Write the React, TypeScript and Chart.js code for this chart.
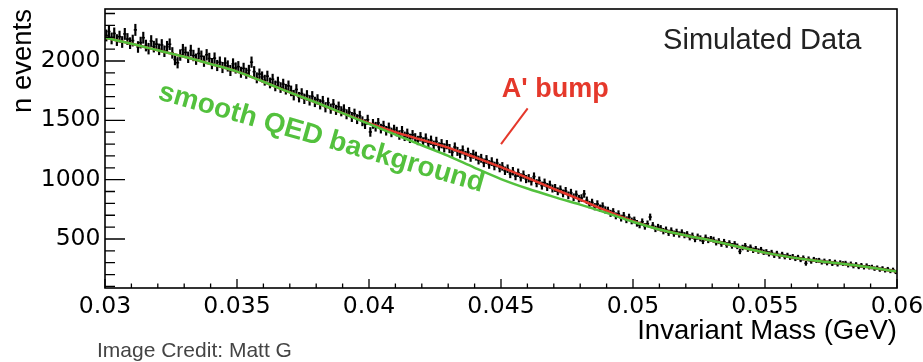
import React, { useEffect, useRef } from 'react';
import { Chart, registerables } from 'chart.js';

Chart.register(...registerables);

const FONT = '"Liberation Sans", Arial, Helvetica, sans-serif';
const TICK_FONT = '"DejaVu Sans", sans-serif';
const GREEN = '#53c13d';
const RED = '#e5382b';

// smooth curves (GeV, events)
const massKnots = [
  0.030, 0.031, 0.032, 0.033, 0.034, 0.035, 0.036, 0.037, 0.038, 0.039,
  0.040, 0.041, 0.042, 0.043, 0.044, 0.045, 0.046, 0.047, 0.048, 0.049,
  0.050, 0.051, 0.052, 0.053, 0.054, 0.055, 0.056, 0.057, 0.058, 0.059, 0.060,
];
const backgroundCurve = [
  2195, 2145, 2090, 2035, 1975, 1910, 1825, 1735, 1650, 1560,
  1470, 1380, 1290, 1200, 1100, 1005, 925, 855, 790, 720,
  645, 580, 530, 485, 435, 385, 345, 315, 290, 260, 226,
];
const signalCurve = [
  2195, 2145, 2090, 2035, 1975, 1910, 1825, 1735, 1650, 1560,
  1475, 1400, 1335, 1270, 1190, 1105, 1015, 923, 832, 738,
  650, 580, 530, 485, 435, 385, 345, 315, 290, 260, 226,
];

// histogram: 300 bins of 0.0001 GeV starting at 0.03
const BIN_START = 0.03;
const BIN_WIDTH = 0.0001;
const counts = [
  2215, 2248, 2190, 2232, 2176, 2205, 2160, 2228, 2185, 2150,
  2172, 2262, 2118, 2155, 2196, 2130, 2104, 2168, 2121, 2142,
  2098, 2135, 2082, 2120, 2141, 2068, 2012, 1985, 2050, 2095,
  2072, 2031, 2088, 2046, 2015, 2063, 2040, 1998, 2052, 2021,
  1978, 2024, 1962, 1990, 1945, 1983, 1958, 1920, 1975, 1941,
  1952, 1905, 1938, 1896, 1921, 1990, 1910, 1858, 1890, 1866,
  1838, 1872, 1815, 1846, 1790, 1822, 1776, 1805, 1762, 1790,
  1748, 1712, 1760, 1695, 1726, 1681, 1710, 1668, 1702, 1655,
  1676, 1635, 1662, 1610, 1648, 1598, 1636, 1588, 1615, 1576,
  1592, 1551, 1570, 1528, 1556, 1510, 1538, 1492, 1468, 1505,
  1402, 1470, 1446, 1478, 1430, 1455, 1412, 1440, 1398, 1422,
  1405, 1376, 1412, 1365, 1390, 1348, 1378, 1352, 1330, 1361,
  1318, 1350, 1305, 1332, 1290, 1322, 1276, 1303, 1268, 1295,
  1262, 1230, 1275, 1238, 1218, 1250, 1205, 1232, 1188, 1214,
  1198, 1165, 1180, 1142, 1170, 1128, 1152, 1115, 1140, 1098,
  1112, 1075, 1092, 1048, 1071, 1030, 1058, 1019, 1042, 1005,
  1012, 985, 1026, 970, 992, 950, 975, 938, 958, 925,
  930, 902, 918, 884, 905, 868, 890, 852, 876, 840,
  845, 880, 826, 790, 808, 772, 795, 760, 778, 745,
  742, 716, 730, 695, 712, 676, 698, 662, 684, 652,
  660, 632, 618, 645, 606, 628, 685, 615, 585, 600,
  590, 566, 578, 552, 571, 545, 560, 538, 555, 532,
  540, 514, 528, 498, 520, 505, 482, 512, 490, 500,
  494, 470, 482, 458, 476, 450, 465, 442, 458, 438,
  395, 428, 442, 415, 430, 405, 418, 398, 410, 388,
  392, 375, 386, 362, 378, 355, 370, 350, 362, 345,
  352, 335, 345, 326, 340, 295, 332, 312, 328, 318,
  320, 305, 314, 298, 310, 292, 305, 288, 300, 293,
  296, 280, 290, 272, 285, 265, 278, 262, 275, 262,
  264, 250, 258, 242, 252, 236, 246, 230, 240, 222,
];

const xTickValues = [0.03, 0.035, 0.04, 0.045, 0.05, 0.055, 0.06];
const xTickLabels = ['0.03', '0.035', '0.04', '0.045', '0.05', '0.055', '0.06'];
const yTickValues = [500, 1000, 1500, 2000];
const yTickLabels = ['500', '1000', '1500', '2000'];

const X_MIN = 0.03;
const X_MAX = 0.06;
const Y_MIN = 87;
const Y_MAX = 2438;

const rootStylePlugin = {
  id: 'rootStyle',
  afterDatasetsDraw(chart: any) {
    const { ctx, chartArea: a, scales } = chart;
    const x = scales.x;
    const y = scales.y;
    ctx.save();
    ctx.strokeStyle = '#000';
    ctx.lineWidth = 1.6;
    ctx.strokeRect(a.left, a.top, a.right - a.left, a.bottom - a.top);
    ctx.lineWidth = 1.3;
    ctx.beginPath();
    for (let k = 30; k <= 60; k++) {
      const px = x.getPixelForValue(k / 1000);
      const len = k % 5 === 0 ? 9 : 4.5;
      ctx.moveTo(px, a.bottom);
      ctx.lineTo(px, a.bottom - len);
    }
    for (let k = 1; k <= 24; k++) {
      const py = y.getPixelForValue(k * 100);
      const len = k % 5 === 0 ? 20 : 10;
      ctx.moveTo(a.left, py);
      ctx.lineTo(a.left + len, py);
    }
    ctx.stroke();
    ctx.restore();
  },
  afterDraw(chart: any) {
    const { ctx, scales } = chart;
    const x = scales.x;
    const y = scales.y;
    ctx.save();
    ctx.textBaseline = 'alphabetic';
    ctx.textAlign = 'left';

    ctx.fillStyle = '#222';
    ctx.font = `29px ${FONT}`;
    ctx.fillText('Simulated Data', x.getPixelForValue(0.05114), y.getPixelForValue(2097));

    ctx.fillStyle = RED;
    ctx.font = `bold 27px ${FONT}`;
    ctx.fillText("A' bump", x.getPixelForValue(0.04503), y.getPixelForValue(1699));

    ctx.strokeStyle = RED;
    ctx.lineWidth = 2;
    ctx.beginPath();
    ctx.moveTo(x.getPixelForValue(0.04601), y.getPixelForValue(1601));
    ctx.lineTo(x.getPixelForValue(0.0450), y.getPixelForValue(1300));
    ctx.stroke();

    ctx.fillStyle = GREEN;
    ctx.font = `bold 28px ${FONT}`;
    ctx.translate(x.getPixelForValue(0.03197), y.getPixelForValue(1680));
    ctx.rotate((16 * Math.PI) / 180);
    ctx.fillText('smooth QED background', 0, 0);
    ctx.restore();
  },
};

export default function App() {
  const canvasRef = useRef<HTMLCanvasElement | null>(null);

  useEffect(() => {
    document.body.style.margin = '0';
    const canvas = canvasRef.current;
    if (!canvas) return;

    const histPoints = counts.map((c, i) => ({ x: BIN_START + BIN_WIDTH * (i + 0.5), y: c }));
    const errPoints = counts.map((c, i) => ({
      x: BIN_START + BIN_WIDTH * (i + 0.5),
      y: [c - Math.sqrt(c), c + Math.sqrt(c)],
    }));

    const chart = new Chart(canvas, {
      type: 'scatter',
      data: {
        datasets: [
          {
            type: 'line',
            label: 'smooth QED background',
            data: massKnots.map((m, i) => ({ x: m, y: backgroundCurve[i] })),
            borderColor: GREEN,
            borderWidth: 2.5,
            pointRadius: 0,
            cubicInterpolationMode: 'monotone',
            order: 0,
          } as any,
          {
            type: 'line',
            label: "A' bump",
            data: massKnots.map((m, i) => ({ x: m, y: signalCurve[i] })),
            borderColor: RED,
            borderWidth: 2.5,
            pointRadius: 0,
            cubicInterpolationMode: 'monotone',
            order: 1,
          } as any,
          {
            type: 'scatter',
            label: 'Simulated Data',
            data: histPoints,
            pointStyle: 'line',
            pointRadius: 1.6,
            borderColor: '#000',
            borderWidth: 1.6,
            order: 2,
          } as any,
          {
            type: 'bar',
            label: 'errors',
            data: errPoints,
            backgroundColor: '#000',
            borderWidth: 0,
            barThickness: 1.5,
            grouped: false,
            order: 3,
          } as any,
        ],
      },
      options: {
        animation: false,
        responsive: false,
        maintainAspectRatio: false,
        devicePixelRatio: 1,
        layout: { padding: { top: 9, right: 26, bottom: 0, left: 0 } },
        plugins: { legend: { display: false }, tooltip: { enabled: false } },
        scales: {
          x: {
            type: 'linear',
            min: X_MIN,
            max: X_MAX,
            offset: false,
            grid: { display: false, drawTicks: false, offset: false },
            border: { display: false },
            ticks: {
              color: '#000',
              font: { family: TICK_FONT, size: 23.5, lineHeight: 1 },
              padding: 7,
              maxRotation: 0,
              minRotation: 0,
              autoSkip: false,
              callback: (_v: any, i: number) => xTickLabels[i] ?? '',
            },
            title: {
              display: true,
              text: 'Invariant Mass (GeV)',
              align: 'end',
              color: '#000',
              font: { family: FONT, size: 27.5, lineHeight: 1 },
              padding: { top: 0, bottom: 17 },
            },
            afterBuildTicks: (s: any) => {
              s.ticks = xTickValues.map((value) => ({ value }));
            },
            afterFit: (s: any) => {
              s.height = 74;
              s.paddingLeft = 0;
              s.paddingRight = 0;
            },
          },
          y: {
            type: 'linear',
            min: Y_MIN,
            max: Y_MAX,
            beginAtZero: false,
            grid: { display: false, drawTicks: false },
            border: { display: false },
            ticks: {
              color: '#000',
              font: { family: TICK_FONT, size: 23.5, lineHeight: 1 },
              padding: 4.5,
              autoSkip: false,
              callback: (_v: any, i: number) => yTickLabels[i] ?? '',
            },
            title: {
              display: true,
              text: 'n events',
              align: 'end',
              color: '#000',
              font: { family: FONT, size: 27.5, lineHeight: 1 },
              padding: { top: 10, bottom: 0 },
            },
            afterBuildTicks: (s: any) => {
              s.ticks = yTickValues.map((value) => ({ value }));
            },
            afterFit: (s: any) => {
              s.width = 105;
              s.paddingTop = 0;
              s.paddingBottom = 0;
            },
          },
        },
      } as any,
      plugins: [rootStylePlugin],
    });

    return () => chart.destroy();
  }, []);

  return (
    <div style={{ position: 'relative', width: 923, height: 362, background: '#fff', overflow: 'hidden' }}>
      <canvas ref={canvasRef} width={923} height={362} style={{ display: 'block' }} />
      <div
        style={{
          position: 'absolute',
          left: 97,
          top: 340,
          font: `21px ${FONT}`,
          lineHeight: '20px',
          color: '#444',
          whiteSpace: 'nowrap',
        }}
      >
        Image Credit: Matt G
      </div>
    </div>
  );
}
